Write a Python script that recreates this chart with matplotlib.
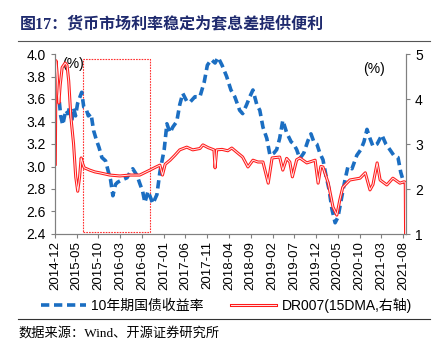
import pandas as pd
import matplotlib
matplotlib.use('Agg')
import matplotlib.pyplot as plt
import matplotlib.dates as mdates
import matplotlib.patheffects as pe
from matplotlib.patches import Rectangle

plt.rcParams['font.family'] = ['Liberation Sans', 'Noto Sans CJK SC', 'DejaVu Sans']

# 10Y government bond yield (left axis)
bond_dates = ['2014-12-01', '2014-12-12', '2014-12-30', '2015-01-10', '2015-01-24', '2015-02-15',
              '2015-03-01', '2015-03-14', '2015-03-28', '2015-04-10', '2015-04-24', '2015-05-08',
              '2015-05-28', '2015-06-06', '2015-06-20', '2015-07-05', '2015-07-22', '2015-08-10',
              '2015-08-28', '2015-09-18', '2015-10-05', '2015-10-25', '2015-11-20', '2015-12-10',
              '2015-12-25', '2016-01-10', '2016-01-28', '2016-02-12', '2016-03-13', '2016-04-18',
              '2016-05-10', '2016-05-28', '2016-06-27', '2016-07-16', '2016-08-05', '2016-08-21',
              '2016-09-12', '2016-10-16', '2016-11-13', '2016-12-04', '2017-01-03', '2017-01-22',
              '2017-02-13', '2017-03-04', '2017-04-01', '2017-04-22', '2017-05-13', '2017-06-10',
              '2017-07-01', '2017-08-06', '2017-09-10', '2017-10-10', '2017-11-01', '2017-11-28',
              '2017-12-25', '2018-01-15', '2018-02-12', '2018-03-16', '2018-04-15', '2018-05-12',
              '2018-06-15', '2018-07-06', '2018-08-03', '2018-08-25', '2018-09-16', '2018-10-13',
              '2018-11-03', '2018-11-25', '2018-12-22', '2019-01-13', '2019-02-10', '2019-03-01',
              '2019-03-22', '2019-04-13', '2019-05-10', '2019-06-10', '2019-06-28', '2019-07-19',
              '2019-08-10', '2019-09-07', '2019-10-06', '2019-10-27', '2019-11-16', '2019-12-07',
              '2019-12-28', '2020-01-19', '2020-02-09', '2020-03-01', '2020-03-22', '2020-04-13',
              '2020-05-03', '2020-05-22', '2020-06-21', '2020-07-12', '2020-08-09', '2020-09-12',
              '2020-10-10', '2020-11-01', '2020-11-22', '2020-12-13', '2021-01-03', '2021-02-01',
              '2021-03-06', '2021-04-03', '2021-05-01', '2021-05-28', '2021-06-27', '2021-07-16',
              '2021-08-01', '2021-08-15']
bond_yield = [3.80, 3.68, 3.59, 3.45, 3.37, 3.50,
              3.47, 3.53, 3.40, 3.52, 3.45, 3.56,
              3.63, 3.66, 3.53, 3.52, 3.45, 3.47,
              3.32, 3.23, 3.17, 3.08, 3.05, 2.95,
              2.88, 2.74, 2.84, 2.86, 2.88, 2.90,
              2.95, 2.98, 2.92, 2.85, 2.78, 2.68,
              2.78, 2.67, 2.75, 2.95, 3.15, 3.38,
              3.30, 3.35, 3.40, 3.55, 3.65, 3.58,
              3.57, 3.62, 3.62, 3.75, 3.90, 3.95,
              3.92, 3.97, 3.90, 3.80, 3.68, 3.62,
              3.50, 3.47, 3.55, 3.62, 3.68, 3.55,
              3.50, 3.35, 3.25, 3.10, 3.12, 3.15,
              3.25, 3.41, 3.30, 3.22, 3.20, 3.15,
              3.07, 3.12, 3.23, 3.29, 3.22, 3.20,
              3.12, 3.06, 2.92, 2.80, 2.62, 2.50,
              2.55, 2.68, 2.88, 3.00, 2.98, 3.10,
              3.15, 3.22, 3.33, 3.25, 3.18, 3.20,
              3.28, 3.20, 3.15, 3.10, 3.08, 2.95,
              2.88, 2.85]

# DR007 15-day moving average (right axis)
dr_dates = ['2014-12-03', '2014-12-08', '2014-12-15', '2014-12-28', '2015-01-06', '2015-01-20',
            '2015-02-10', '2015-02-23', '2015-03-07', '2015-03-22', '2015-04-10', '2015-04-25',
            '2015-05-09', '2015-05-22', '2015-06-02', '2015-06-14', '2015-06-24', '2015-07-10',
            '2015-08-01', '2015-09-06', '2015-10-09', '2015-12-19', '2016-02-28', '2016-05-07',
            '2016-07-16', '2016-09-25', '2016-11-01', '2016-12-04', '2016-12-22', '2017-01-10',
            '2017-02-13', '2017-03-19', '2017-04-22', '2017-06-10', '2017-07-22', '2017-09-10',
            '2017-10-01', '2017-11-06', '2017-12-17', '2017-12-25', '2018-01-05', '2018-02-12',
            '2018-03-24', '2018-04-21', '2018-05-25', '2018-07-06', '2018-08-12', '2018-09-16',
            '2018-10-21', '2018-11-25', '2019-01-01', '2019-01-28', '2019-03-22', '2019-04-13',
            '2019-05-10', '2019-06-01', '2019-06-19', '2019-07-19', '2019-08-10', '2019-09-28',
            '2019-11-25', '2019-12-16', '2020-01-04', '2020-01-19', '2020-02-25', '2020-03-29',
            '2020-04-25', '2020-05-16', '2020-06-06', '2020-07-25', '2020-10-04', '2020-11-10',
            '2020-12-13', '2021-01-03', '2021-02-01', '2021-02-22', '2021-04-10', '2021-05-22',
            '2021-07-10', '2021-08-08', '2021-08-17', '2021-08-19']
dr007 = [2.55, 4.85, 4.60, 3.91, 4.30, 4.70,
         4.80, 4.75, 4.40, 3.60, 3.00, 2.27,
         1.95, 2.27, 2.69, 2.55, 2.47, 2.45,
         2.42, 2.38, 2.36, 2.31, 2.29, 2.31,
         2.31, 2.42, 2.48, 2.53, 2.31, 2.55,
         2.64, 2.75, 2.87, 2.93, 2.87, 2.90,
         2.98, 2.92, 2.87, 2.47, 2.87, 2.88,
         2.85, 2.91, 2.82, 2.71, 2.49, 2.64,
         2.60, 2.60, 2.13, 2.69, 2.71, 2.42,
         2.68, 2.60, 2.27, 2.65, 2.69, 2.58,
         2.64, 2.13, 2.50, 2.49, 2.13, 1.60,
         1.42, 1.76, 2.04, 2.20, 2.24, 2.36,
         1.98, 2.10, 2.58, 2.20, 2.09, 2.24,
         2.13, 2.16, 2.15, 1.00]

box_dates = ['2015-06-15', '2016-09-25']
box_range = [2.415, 3.953]

xticks = pd.date_range('2014-12-01', '2021-08-01', freq='5MS')

blue = '#1B6EC2'
grey = '#808080'

fig = plt.figure(figsize=(4.44, 3.46), dpi=100)
ax = fig.add_axes([55/444, 1-234/346, 351/444, 180/346])
ax2 = ax.twinx()

ax.plot(pd.to_datetime(bond_dates), bond_yield, color=blue, lw=2.6,
        dashes=(2.3, 1.3), label='10年期国债收益率')
ax2.plot(pd.to_datetime(dr_dates), dr007, color='#FFE8E8', lw=0.7,
         path_effects=[pe.Stroke(linewidth=2.2, foreground='#FF1A1A'), pe.Normal()],
         label='DR007(15DMA,右轴)')

b0, b1 = mdates.date2num(pd.to_datetime(box_dates))
ax.add_patch(Rectangle((b0, box_range[0]), b1 - b0, box_range[1] - box_range[0],
                       fill=False, ec='#FF3030', lw=0.8, ls=(0, (1.5, 1))))

ax.set_xlim(pd.Timestamp('2014-12-01'), pd.Timestamp('2021-08-22'))
ax.set_ylim(2.4, 4.0)
ax.set_yticks([2.4, 2.6, 2.8, 3.0, 3.2, 3.4, 3.6, 3.8, 4.0])
ax.set_yticklabels(['%.1f' % v for v in ax.get_yticks()])
ax2.set_ylim(1, 5)
ax2.set_yticks([1, 2, 3, 4, 5])
ax.set_xticks(xticks)
ax.set_xticklabels([d.strftime('%Y-%m') for d in xticks], rotation=90, fontsize=9.5)

for a in (ax, ax2):
    a.spines['top'].set_visible(False)
    for s in ('left', 'right', 'bottom'):
        a.spines[s].set_color(grey)
    a.tick_params(colors=grey, labelcolor='black', length=3, width=0.8, labelsize=10)
ax.tick_params(axis='x', labelsize=9.5, pad=2)

ax.text(0.02, 0.985, '(%)', transform=ax.transAxes, fontsize=10, va='top', ha='left')
ax.text(0.94, 0.955, '(%)', transform=ax.transAxes, fontsize=10, va='top', ha='right')

h1, l1 = ax.get_legend_handles_labels()
h2, l2 = ax2.get_legend_handles_labels()
fig.legend(h1 + h2, l1 + l2, loc='center', bbox_to_anchor=(0.51, 1-305/346), ncol=2,
           frameon=False, fontsize=10, handlelength=3.2, columnspacing=2.0, handletextpad=0.4)

fig.text(20/444, 1-24/346, '图17：货币市场利率稳定为套息差提供便利', fontsize=11.5,
         fontweight='bold', color='#1F2A6E', va='center',
         family=['Liberation Serif', 'Noto Sans CJK SC'])
fig.add_artist(plt.Line2D([18/444, 430/444], [1-41/346, 1-41/346], color='#555555', lw=0.8))
fig.add_artist(plt.Line2D([18/444, 430/444], [1-319/346, 1-319/346], color='#333333', lw=0.8))
fig.text(18/444, 1-333/346, '数据来源：Wind、开源证券研究所', fontsize=9.5, va='center',
         family=['Liberation Serif', 'Noto Sans CJK SC'])

fig.savefig('out.png', dpi=100)
